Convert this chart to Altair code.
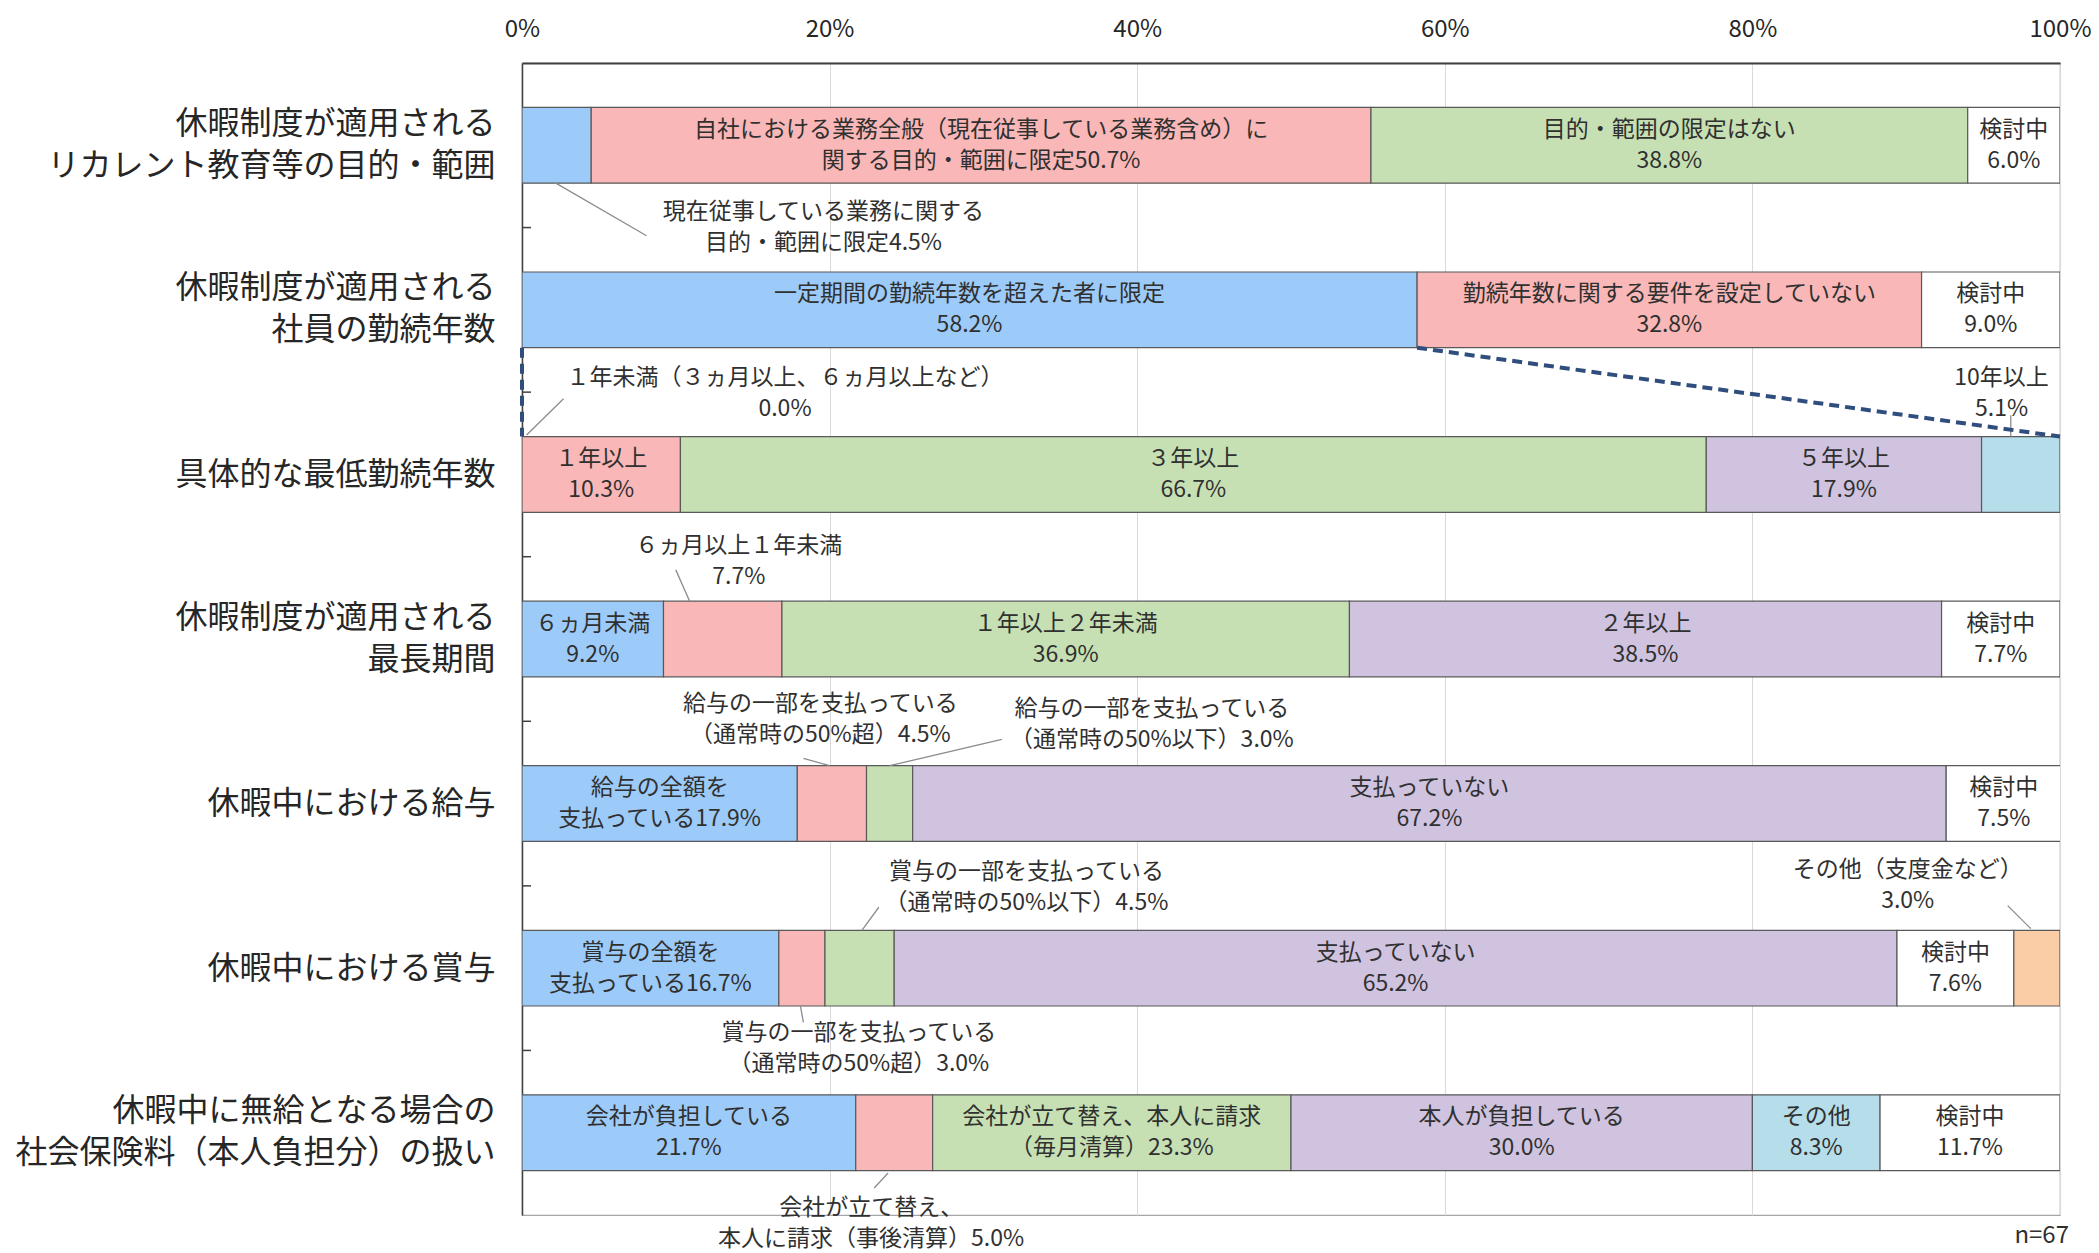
import json
import pandas as pd
import altair as alt

FONT = "Noto Sans CJK JP"

# ---- categories (y axis) ----
rows = [
    "休暇制度が適用される|リカレント教育等の目的・範囲",
    "休暇制度が適用される|社員の勤続年数",
    "具体的な最低勤続年数",
    "休暇制度が適用される|最長期間",
    "休暇中における給与",
    "休暇中における賞与",
    "休暇中に無給となる場合の|社会保険料（本人負担分）の扱い",
]

# ---- segment values (%) per row ----
seg_values = [
    [4.5, 50.7, 38.8, 6.0],
    [58.2, 32.8, 9.0],
    [0.0, 10.3, 66.7, 17.9, 5.1],
    [9.2, 7.7, 36.9, 38.5, 7.7],
    [17.9, 4.5, 3.0, 67.2, 7.5],
    [16.7, 3.0, 4.5, 65.2, 7.6, 3.0],
    [21.7, 5.0, 23.3, 30.0, 8.3, 11.7],
]

seg_colors = [
    ["blue", "pink", "green", "white"],
    ["blue", "pink", "white"],
    ["blue", "pink", "green", "purple", "teal"],
    ["blue", "pink", "green", "purple", "white"],
    ["blue", "pink", "green", "purple", "white"],
    ["blue", "pink", "green", "purple", "white", "orange"],
    ["blue", "pink", "green", "purple", "teal", "white"],
]

# in-bar label names (None = no label inside the bar)
inside_names = [
    [None, "自社における業務全般（現在従事している業務含め）に|関する目的・範囲に限定", "目的・範囲の限定はない|", "検討中|"],
    ["一定期間の勤続年数を超えた者に限定|", "勤続年数に関する要件を設定していない|", "検討中|"],
    [None, "１年以上|", "３年以上|", "５年以上|", None],
    ["６ヵ月未満|", None, "１年以上２年未満|", "２年以上|", "検討中|"],
    ["給与の全額を|支払っている", None, None, "支払っていない|", "検討中|"],
    ["賞与の全額を|支払っている", None, None, "支払っていない|", "検討中|", None],
    ["会社が負担している|", None, "会社が立て替え、本人に請求|（毎月清算）", "本人が負担している|", "その他|", "検討中|"],
]

# callouts: (row, segment, name, text x %, text y [row units], leader x1, y1, x2, y2)
callouts = [
    (0, 0, "現在従事している業務に関する|目的・範囲に限定", 19.6, 1.0, 2.2, 0.73, 8.1, 1.05),
    (2, 0, "１年未満（３ヵ月以上、６ヵ月以上など）|", 17.1, 2.01, 0.3, 2.26, 2.7, 2.04),
    (2, 4, "10年以上|", 96.2, 2.01, 96.8, 2.14, 96.8, 2.27),
    (3, 1, "６ヵ月以上１年未満|", 14.1, 3.03, 10.0, 3.08, 10.9, 3.27),
    (4, 1, "給与の一部を支払っている|（通常時の50%超）", 19.4, 3.99, 18.3, 4.225, 20.0, 4.27),
    (4, 2, "給与の一部を支払っている|（通常時の50%以下）", 40.95, 4.02, 31.2, 4.11, 23.9, 4.27),
    (5, 2, "賞与の一部を支払っている|（通常時の50%以下）", 32.8, 5.01, 23.2, 5.13, 22.1, 5.27),
    (5, 1, "賞与の一部を支払っている|（通常時の50%超）", 21.9, 5.99, 18.1, 5.73, 18.3, 5.83),
    (5, 5, "その他（支度金など）|", 90.1, 5.0, 96.6, 5.12, 98.1, 5.26),
    (6, 1, "会社が立て替え、|本人に請求（事後清算）", 22.7, 7.05, 23.8, 6.745, 22.9, 6.836),
]

note_text = "n=67"

color_keys = ["blue", "pink", "green", "purple", "teal", "white", "orange"]
color_hex = ["#9DCBF9", "#F9B8B7", "#C6E0B4", "#CFC3DF", "#B5DEEA", "#FFFFFF", "#FBCDA6"]

BAR_HALF = 0.23
LABEL_FS = 23
LABEL_LH = 31

# ---- build tables ----
recs = []
for i, (vals, cols, names) in enumerate(zip(seg_values, seg_colors, inside_names)):
    start = 0.0
    for j, v in enumerate(vals):
        end = round(start + v, 2)
        label = (names[j] + f"{v:.1f}%") if names[j] is not None else ""
        recs.append(dict(row=i, seg=j, x0=start, x1=end, mid=(start + end) / 2,
                         y0=i + 0.5 - BAR_HALF, y1=i + 0.5 + BAR_HALF, yc=i + 0.5,
                         color=cols[j], label=label, value=v))
        start = end
bars_df = pd.DataFrame(recs)

co_recs = []
for (r, s, name, tx, ty, lx1, ly1, lx2, ly2) in callouts:
    v = seg_values[r][s]
    co_recs.append(dict(label=name + f"{v:.1f}%", tx=tx, ty=ty, lx1=lx1, ly1=ly1, lx2=lx2, ly2=ly2))
co_df = pd.DataFrame(co_recs)

# dashed breakdown lines: row 2's first segment expands into row 3
b = seg_values[1][0]
dash_df = pd.DataFrame([
    dict(x=0.0, y=1 + 0.5 + BAR_HALF, x2=0.0, y2=2 + 0.5 - BAR_HALF),
    dict(x=b, y=1 + 0.5 + BAR_HALF, x2=100.0, y2=2 + 0.5 - BAR_HALF),
])

tick_df = pd.DataFrame(dict(y=[1, 2, 3, 4, 5, 6]))
note_df = pd.DataFrame([dict(x=100.0, y=7.13, label=note_text)])

y_values = [i + 0.5 for i in range(len(rows))]
multi_values = [i + 0.5 for i, r in enumerate(rows) if "|" in r]
y_label_expr = "split(" + json.dumps(rows, ensure_ascii=False) + "[floor(datum.value)], '|')"
multi_test = "indexof(" + json.dumps(multi_values) + ", datum.value) >= 0"

x_scale = alt.Scale(domain=[0, 100], nice=False, zero=True)
y_scale = alt.Scale(domain=[0, 7], nice=False, reverse=True, zero=False)

x_axis = alt.Axis(orient="top", values=[0, 20, 40, 60, 80, 100], labelExpr="datum.value + '%'",
                  grid=True, gridColor="#D9D9D9", gridWidth=1, domainColor="#404040",
                  domainWidth=2, ticks=False, tickSize=0, labelFontSize=24, labelPadding=22,
                  labelFlush=False, labelColor="#262626", labelFont=FONT, title=None)
y_axis = alt.Axis(values=y_values, labelExpr=y_label_expr,
                  grid=False, ticks=False, tickSize=0, domainColor="#404040", domainWidth=1.5,
                  labelFontSize=32, labelLineHeight=42, labelPadding=27, labelLimit=800,
                  labelColor="#262626", labelFont=FONT, labelOverlap=False, labelAlign="right",
                  labelBaseline={"condition": {"test": multi_test, "value": "line-bottom"}, "value": "middle"},
                  title=None)

base = alt.Chart(bars_df)

bars = base.transform_filter("datum.value > 0").mark_bar(
    stroke="#595959", strokeWidth=1.2, clip=True
).encode(
    x=alt.X("x0:Q", scale=x_scale, axis=x_axis),
    x2="x1:Q",
    y=alt.Y("y0:Q", scale=y_scale, axis=y_axis),
    y2="y1:Q",
    color=alt.Color("color:N", scale=alt.Scale(domain=color_keys, range=color_hex), legend=None),
)

bar_text = base.transform_filter("datum.label != ''").mark_text(
    lineBreak="|", fontSize=LABEL_FS, lineHeight=LABEL_LH, font=FONT, color="#303030",
    align="center", baseline="middle", dy=-LABEL_LH / 2
).encode(
    x=alt.X("mid:Q", title=None),
    y=alt.Y("yc:Q", title=None),
    text="label:N",
)

leaders = alt.Chart(co_df).mark_rule(color="#8C8C8C", strokeWidth=1.3).encode(
    x=alt.X("lx1:Q", title=None), x2="lx2:Q",
    y=alt.Y("ly1:Q", title=None), y2="ly2:Q",
)

co_text = alt.Chart(co_df).mark_text(
    lineBreak="|", fontSize=LABEL_FS, lineHeight=LABEL_LH, font=FONT, color="#303030",
    align="center", baseline="middle", dy=-LABEL_LH / 2
).encode(
    x=alt.X("tx:Q", title=None),
    y=alt.Y("ty:Q", title=None),
    text="label:N",
)

dashed = alt.Chart(dash_df).mark_rule(color="#2F4E7E", strokeWidth=4, strokeDash=[10, 6]).encode(
    x=alt.X("x:Q", title=None), x2="x2:Q",
    y=alt.Y("y:Q", title=None), y2="y2:Q",
)

yticks = alt.Chart(tick_df).mark_rule(color="#404040", strokeWidth=1.5).encode(
    x=alt.value(0), x2=alt.value(9),
    y=alt.Y("y:Q", title=None),
)

note = alt.Chart(note_df).mark_text(
    fontSize=24, font=FONT, color="#303030", align="right", baseline="middle", dx=9
).encode(
    x=alt.X("x:Q", title=None),
    y=alt.Y("y:Q", title=None),
    text="label:N",
)

chart = alt.layer(bars, bar_text, leaders, dashed, yticks, co_text, note).properties(
    width=1538, height=1152,
    autosize=alt.AutoSizeParams(type="none"),
    padding={"left": 514, "top": 55, "right": 31, "bottom": 38},
).configure(font=FONT).configure_view(stroke="#A6A6A6", strokeWidth=1.2)

chart.save("out.html", embed_options={"renderer": "svg", "actions": False})
